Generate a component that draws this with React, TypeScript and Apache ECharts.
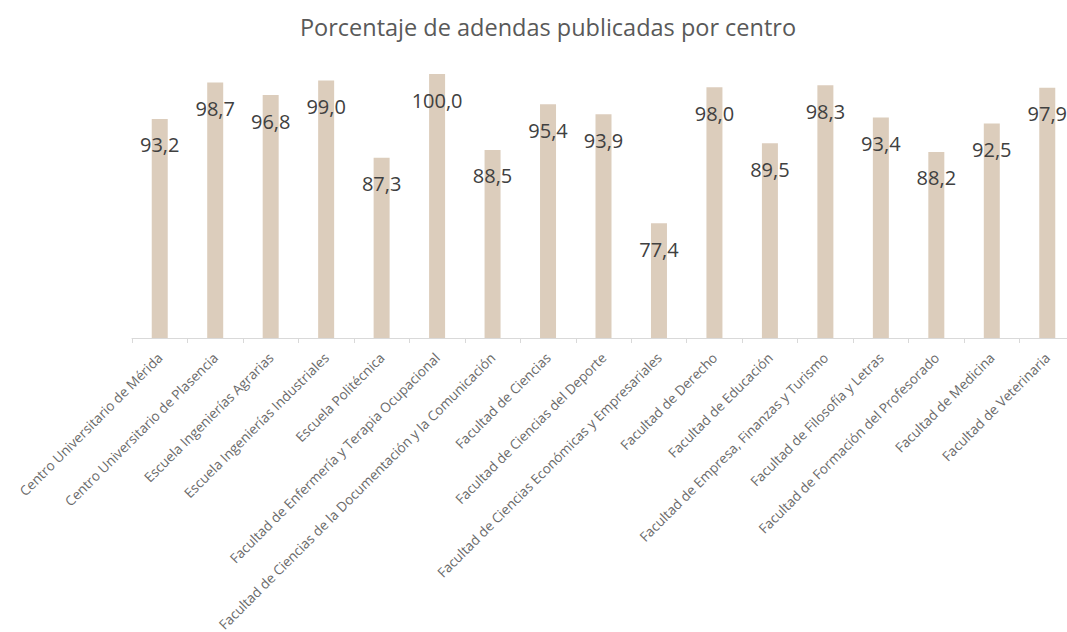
import React, { useEffect, useRef } from "react";
import * as echarts from "echarts";

const categories: string[] = [
  "Centro Universitario de Mérida",
  "Centro Universitario de Plasencia",
  "Escuela Ingenierías Agrarias",
  "Escuela Ingenierías Industriales",
  "Escuela Politécnica",
  "Facultad de Enfermería y Terapia Ocupacional",
  "Facultad de Ciencias de la Documentación y la Comunicación",
  "Facultad de Ciencias",
  "Facultad de Ciencias del Deporte",
  "Facultad de Ciencias Económicas y Empresariales",
  "Facultad de Derecho",
  "Facultad de Educación",
  "Facultad de Empresa, Finanzas y Turismo",
  "Facultad de Filosofía y Letras",
  "Facultad de Formación del Profesorado",
  "Facultad de Medicina",
  "Facultad de Veterinaria",
];

const values: number[] = [
  93.2, 98.7, 96.8, 99.0, 87.3, 100.0, 88.5, 95.4, 93.9, 77.4, 98.0, 89.5, 98.3,
  93.4, 88.2, 92.5, 97.9,
];

const titleText = "Porcentaje de adendas publicadas por centro";

export default function App() {
  const ref = useRef<HTMLDivElement>(null);
  useEffect(() => {
    if (!ref.current) return;
    const chart = echarts.init(ref.current, undefined, { renderer: "svg" });
    chart.setOption({
      animation: false,
      backgroundColor: "#ffffff",
      title: {
        text: titleText,
        left: 543,
        top: 10,
        textAlign: "center",
        textStyle: {
          fontFamily: "Open Sans",
          fontSize: 23.5,
          fontWeight: "normal",
          color: "#595959",
        },
      },
      grid: {
        left: 132,
        width: 943,
        top: 74,
        bottom: 294,
        containLabel: false,
        outerBoundsMode: "none",
      },
      xAxis: {
        type: "category",
        data: categories,
        boundaryGap: true,
        axisLine: { lineStyle: { color: "#d9d9d9", width: 1 } },
        axisTick: { show: true, length: 5, lineStyle: { color: "#d9d9d9" } },
        axisLabel: {
          interval: 0,
          rotate: 45,
          margin: 17,
          fontFamily: "Open Sans",
          fontSize: 13.6,
          color: "#6a6a6a",
        },
      },
      yAxis: {
        type: "value",
        min: 60,
        max: 100,
        show: false,
        splitLine: { show: false },
      },
      series: [
        {
          type: "bar",
          data: values,
          barWidth: 16,
          itemStyle: { color: "#dccdbc" },
          label: {
            show: true,
            position: "insideTop",
            distance: 16,
            fontFamily: "Open Sans",
            fontSize: 20,
            color: "#404040",
            formatter: (p: any) => Number(p.value).toFixed(1).replace(".", ","),
          },
        },
      ],
    });
    return () => chart.dispose();
  }, []);
  return (
    <div
      ref={ref}
      style={{ position: "fixed", left: 0, top: 0, width: 1067, height: 632 }}
    />
  );
}
